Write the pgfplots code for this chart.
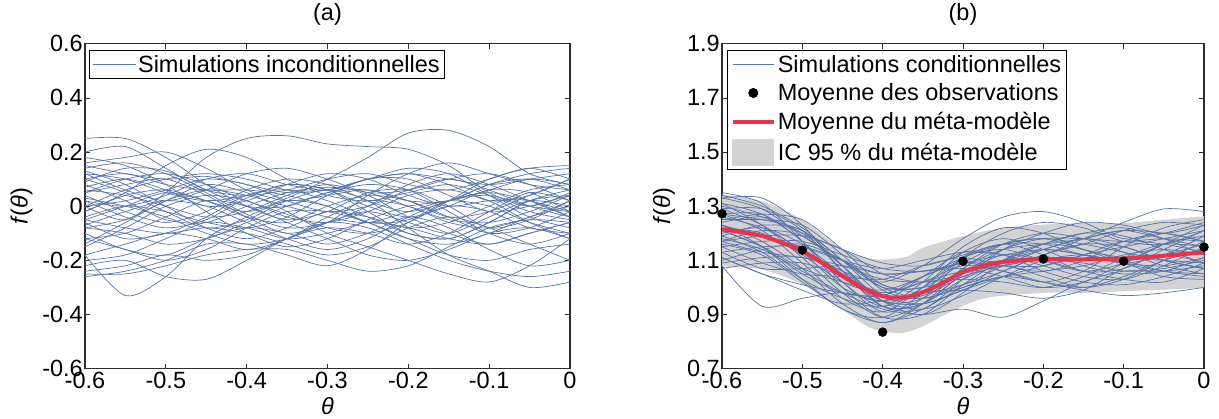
\documentclass[border=0pt]{standalone}
\usepackage{fontspec}
\setmainfont{Liberation Sans}
\usepackage{pgfplots}
\pgfplotsset{compat=1.18}
\usepgfplotslibrary{fillbetween}
\definecolor{simblue}{RGB}{88,116,168}
\definecolor{mred}{RGB}{236,50,75}
\definecolor{bandgray}{RGB}{211,211,211}
\definecolor{axgray}{RGB}{45,45,45}
\newcommand{\bigf}{\fontsize{23.5}{28}\selectfont}
\pgfplotsset{
  myaxis/.style={
    scale only axis, height=325pt, xmin=-0.6, xmax=0,
    xtick={-0.6,-0.5,-0.4,-0.3,-0.2,-0.1,0},
    tick align=inside, major tick length=5pt,
    tick style={axgray, line width=0.7pt},
    axis line style={axgray, line width=1.3pt},
    /pgf/number format/assume math mode=true,
    /pgf/number format/fixed, /pgf/number format/precision=1,
    ticklabel style={font=\bigf},
    yticklabel style={inner xsep=2pt},
    xticklabel style={inner ysep=3pt},
    xlabel={\textit{θ}}, xlabel style={at={(axis description cs:0.5,-0.116)}, anchor=center, font=\bigf},
    ylabel={\textit{f}(\textit{θ})}, ylabel style={anchor=center, font=\bigf},
    title style={at={(axis description cs:0.5,1.071)}, anchor=center, font=\bigf},
    clip mode=individual,
    legend cell align=left,
    legend style={draw=black, line width=1pt, fill=white, font=\bigf,
      inner xsep=3pt, inner ysep=3pt, anchor=north west, row sep=6pt},
  },
  sim/.style={simblue, line width=0.7pt, smooth, no markers, forget plot},
}
\begin{document}
\begin{tikzpicture}
% ---------------- (a) ----------------
\begin{axis}[myaxis, at={(0pt,0pt)}, width=485pt,
  ymin=-0.6, ymax=0.6, ytick={-0.6,-0.4,-0.2,0,0.2,0.4,0.6},
  ylabel style={at={(axis description cs:-0.131,0.5)}},
  title={(a)},
  legend style={at={(axis description cs:0.008,0.9815)}}]
\addlegendimage{legend image code/.code={\draw[simblue, line width=0.7pt] (0pt,0pt)--(43pt,0pt);}}
\addlegendentry{Simulations inconditionnelles}
\addplot[sim] coordinates {(-0.6,-0.05)(-0.55,0.00)(-0.5,0.05)(-0.45,0.02)(-0.4,-0.02)(-0.35,0.03)(-0.3,0.10)(-0.25,0.18)(-0.2,0.27)(-0.15,0.28)(-0.1,0.22)(-0.05,0.12)(0,0.08)};
\addplot[sim] coordinates {(-0.6,0.25)(-0.55,0.25)(-0.5,0.18)(-0.45,0.08)(-0.4,0.00)(-0.35,-0.05)(-0.3,-0.02)(-0.25,0.05)(-0.2,0.06)(-0.15,0.00)(-0.1,-0.08)(-0.05,-0.05)(0,0.02)};
\addplot[sim] coordinates {(-0.6,0.00)(-0.55,-0.05)(-0.5,0.05)(-0.45,0.18)(-0.4,0.25)(-0.35,0.26)(-0.3,0.23)(-0.25,0.22)(-0.2,0.21)(-0.15,0.15)(-0.1,0.05)(-0.05,0.00)(0,0.05)};
\addplot[sim] coordinates {(-0.6,-0.18)(-0.55,-0.33)(-0.5,-0.26)(-0.45,-0.12)(-0.4,-0.04)(-0.35,0.02)(-0.3,0.00)(-0.25,-0.06)(-0.2,-0.05)(-0.15,0.02)(-0.1,0.05)(-0.05,0.02)(0,-0.02)};
\addplot[sim] coordinates {(-0.6,0.10)(-0.55,0.05)(-0.5,-0.02)(-0.45,-0.08)(-0.4,-0.05)(-0.35,0.02)(-0.3,0.06)(-0.25,0.02)(-0.2,-0.08)(-0.15,-0.18)(-0.1,-0.24)(-0.05,-0.30)(0,-0.28)};
\addplot[sim] coordinates {(-0.6,-0.08)(-0.55,-0.05)(-0.5,0.02)(-0.45,0.08)(-0.4,0.05)(-0.35,-0.02)(-0.3,-0.10)(-0.25,-0.15)(-0.2,-0.20)(-0.15,-0.25)(-0.1,-0.28)(-0.05,-0.22)(0,-0.12)};
\addplot[sim] coordinates {(-0.6,0.15)(-0.55,0.12)(-0.5,0.10)(-0.45,0.11)(-0.4,0.08)(-0.35,0.05)(-0.3,0.06)(-0.25,0.10)(-0.2,0.12)(-0.15,0.10)(-0.1,0.08)(-0.05,0.10)(0,0.12)};
\addplot[sim] coordinates {(-0.6,0.18)(-0.55,0.15)(-0.5,0.08)(-0.45,-0.02)(-0.4,-0.10)(-0.35,-0.15)(-0.3,-0.12)(-0.25,-0.05)(-0.2,0.00)(-0.15,0.02)(-0.1,0.06)(-0.05,0.10)(0,0.08)};
\addplot[sim] coordinates {(-0.6,-0.25)(-0.55,-0.25)(-0.5,-0.22)(-0.45,-0.18)(-0.4,-0.16)(-0.35,-0.16)(-0.3,-0.20)(-0.25,-0.24)(-0.2,-0.22)(-0.15,-0.15)(-0.1,-0.08)(-0.05,-0.05)(0,-0.06)};
\addplot[sim] coordinates {(-0.6,-0.22)(-0.55,-0.20)(-0.5,-0.26)(-0.45,-0.27)(-0.4,-0.20)(-0.35,-0.12)(-0.3,-0.08)(-0.25,-0.10)(-0.2,-0.14)(-0.15,-0.10)(-0.1,-0.02)(-0.05,0.05)(0,0.02)};
\addplot[sim] coordinates {(-0.6,0.05)(-0.55,0.10)(-0.5,0.12)(-0.45,0.08)(-0.4,0.02)(-0.35,-0.03)(-0.3,-0.08)(-0.25,-0.10)(-0.2,-0.06)(-0.15,0.02)(-0.1,0.10)(-0.05,0.14)(0,0.15)};
\addplot[sim] coordinates {(-0.6,-0.02)(-0.55,0.05)(-0.5,0.15)(-0.45,0.21)(-0.4,0.18)(-0.35,0.10)(-0.3,0.04)(-0.25,0.02)(-0.2,0.05)(-0.15,0.08)(-0.1,0.04)(-0.05,-0.02)(0,-0.05)};
\addplot[sim] coordinates {(-0.6,0.12)(-0.55,0.10)(-0.5,0.05)(-0.45,0.02)(-0.4,0.04)(-0.35,0.08)(-0.3,0.06)(-0.25,-0.02)(-0.2,-0.10)(-0.15,-0.12)(-0.1,-0.06)(-0.05,0.02)(0,0.06)};
\addplot[sim] coordinates {(-0.6,-0.08)(-0.55,-0.10)(-0.5,-0.14)(-0.45,-0.12)(-0.4,-0.06)(-0.35,0.00)(-0.3,0.05)(-0.25,0.08)(-0.2,0.06)(-0.15,-0.02)(-0.1,-0.10)(-0.05,-0.14)(0,-0.10)};
\addplot[sim] coordinates {(-0.6,0.08)(-0.55,0.02)(-0.5,-0.05)(-0.45,-0.06)(-0.4,0.00)(-0.35,0.05)(-0.3,0.07)(-0.25,0.05)(-0.2,0.00)(-0.15,-0.05)(-0.1,-0.06)(-0.05,-0.02)(0,0.04)};
\addplot[sim] coordinates {(-0.6,-0.12)(-0.55,-0.10)(-0.5,-0.04)(-0.45,0.02)(-0.4,0.00)(-0.35,-0.06)(-0.3,-0.12)(-0.25,-0.18)(-0.2,-0.20)(-0.15,-0.16)(-0.1,-0.10)(-0.05,-0.08)(0,-0.12)};
\addplot[sim] coordinates {(-0.6,0.20)(-0.55,0.22)(-0.5,0.14)(-0.45,0.06)(-0.4,0.04)(-0.35,0.06)(-0.3,0.10)(-0.25,0.12)(-0.2,0.08)(-0.15,0.06)(-0.1,0.10)(-0.05,0.14)(0,0.10)};
\addplot[sim] coordinates {(-0.6,0.02)(-0.55,-0.04)(-0.5,-0.08)(-0.45,-0.05)(-0.4,0.03)(-0.35,0.08)(-0.3,0.06)(-0.25,0.00)(-0.2,-0.04)(-0.15,0.00)(-0.1,0.06)(-0.05,0.05)(0,-0.02)};
\addplot[sim] coordinates {(-0.6,-0.15)(-0.55,-0.08)(-0.5,0.00)(-0.45,0.04)(-0.4,0.02)(-0.35,-0.04)(-0.3,-0.06)(-0.25,-0.02)(-0.2,0.04)(-0.15,0.06)(-0.1,0.02)(-0.05,-0.06)(0,-0.12)};
\addplot[sim] coordinates {(-0.6,0.14)(-0.55,0.16)(-0.5,0.12)(-0.45,0.05)(-0.4,-0.03)(-0.35,-0.08)(-0.3,-0.06)(-0.25,0.00)(-0.2,0.08)(-0.15,0.12)(-0.1,0.08)(-0.05,0.02)(0,-0.04)};
\addplot[sim] coordinates {(-0.6,-0.05)(-0.55,-0.08)(-0.5,-0.10)(-0.45,-0.08)(-0.4,-0.10)(-0.35,-0.14)(-0.3,-0.18)(-0.25,-0.15)(-0.2,-0.08)(-0.15,-0.04)(-0.1,-0.08)(-0.05,-0.14)(0,-0.20)};
\addplot[sim] coordinates {(-0.6,0.05)(-0.55,0.08)(-0.5,0.10)(-0.45,0.04)(-0.4,-0.04)(-0.35,-0.10)(-0.3,-0.06)(-0.25,0.04)(-0.2,0.12)(-0.15,0.16)(-0.1,0.12)(-0.05,0.08)(0,0.06)};
\addplot[sim] coordinates {(-0.6,-0.26)(-0.55,-0.24)(-0.5,-0.20)(-0.45,-0.14)(-0.4,-0.14)(-0.35,-0.18)(-0.3,-0.22)(-0.25,-0.16)(-0.2,-0.06)(-0.15,0.00)(-0.1,-0.02)(-0.05,-0.08)(0,-0.10)};
\addplot[sim] coordinates {(-0.6,0.10)(-0.55,0.12)(-0.5,0.08)(-0.45,0.06)(-0.4,0.06)(-0.35,0.04)(-0.3,0.00)(-0.25,-0.06)(-0.2,-0.12)(-0.15,-0.14)(-0.1,-0.10)(-0.05,-0.04)(0,0.00)};
\addplot[sim] coordinates {(-0.6,0.00)(-0.55,0.02)(-0.5,0.06)(-0.45,0.10)(-0.4,0.08)(-0.35,0.02)(-0.3,-0.02)(-0.25,0.00)(-0.2,0.06)(-0.15,0.10)(-0.1,0.06)(-0.05,0.00)(0,-0.04)};
\addplot[sim] coordinates {(-0.6,-0.10)(-0.55,-0.16)(-0.5,-0.18)(-0.45,-0.12)(-0.4,-0.08)(-0.35,-0.10)(-0.3,-0.14)(-0.25,-0.10)(-0.2,-0.04)(-0.15,-0.08)(-0.1,-0.16)(-0.05,-0.22)(0,-0.20)};
\addplot[sim] coordinates {(-0.6,0.12)(-0.55,0.06)(-0.5,0.02)(-0.45,0.06)(-0.4,0.12)(-0.35,0.14)(-0.3,0.10)(-0.25,0.05)(-0.2,0.06)(-0.15,0.10)(-0.1,0.12)(-0.05,0.08)(0,0.02)};
\addplot[sim] coordinates {(-0.6,-0.04)(-0.55,0.00)(-0.5,-0.02)(-0.45,-0.06)(-0.4,-0.08)(-0.35,-0.04)(-0.3,0.04)(-0.25,0.10)(-0.2,0.10)(-0.15,0.04)(-0.1,-0.02)(-0.05,0.00)(0,0.04)};
\addplot[sim] coordinates {(-0.6,0.06)(-0.55,0.04)(-0.5,0.00)(-0.45,-0.04)(-0.4,-0.02)(-0.35,0.04)(-0.3,0.08)(-0.25,0.04)(-0.2,-0.04)(-0.15,-0.10)(-0.1,-0.14)(-0.05,-0.10)(0,-0.06)};
\addplot[sim] coordinates {(-0.6,-0.18)(-0.55,-0.14)(-0.5,-0.10)(-0.45,-0.12)(-0.4,-0.16)(-0.35,-0.12)(-0.3,-0.04)(-0.25,0.02)(-0.2,0.00)(-0.15,-0.06)(-0.1,-0.08)(-0.05,-0.04)(0,0.02)};
\addplot[sim] coordinates {(-0.6,0.16)(-0.55,0.18)(-0.5,0.20)(-0.45,0.14)(-0.4,0.06)(-0.35,0.02)(-0.3,0.04)(-0.25,0.06)(-0.2,0.02)(-0.15,-0.04)(-0.1,-0.02)(-0.05,0.04)(0,0.10)};
\addplot[sim] coordinates {(-0.6,0.02)(-0.55,0.00)(-0.5,0.04)(-0.45,0.10)(-0.4,0.12)(-0.35,0.08)(-0.3,0.06)(-0.25,0.10)(-0.2,0.14)(-0.15,0.12)(-0.1,0.04)(-0.05,-0.04)(0,-0.08)};
\addplot[sim] coordinates {(-0.6,-0.07)(-0.55,-0.02)(-0.5,0.02)(-0.45,0.00)(-0.4,-0.06)(-0.35,-0.12)(-0.3,-0.16)(-0.25,-0.12)(-0.2,-0.04)(-0.15,0.02)(-0.1,0.04)(-0.05,0.00)(0,-0.02)};
\addplot[sim] coordinates {(-0.6,0.09)(-0.55,0.14)(-0.5,0.13)(-0.45,0.06)(-0.4,0.00)(-0.35,0.00)(-0.3,0.05)(-0.25,0.06)(-0.2,0.02)(-0.15,0.02)(-0.1,0.08)(-0.05,0.10)(0,0.06)};
\addplot[sim] coordinates {(-0.6,-0.20)(-0.55,-0.18)(-0.5,-0.12)(-0.45,-0.06)(-0.4,-0.08)(-0.35,-0.12)(-0.3,-0.10)(-0.25,-0.06)(-0.2,-0.08)(-0.15,-0.12)(-0.1,-0.14)(-0.05,-0.10)(0,-0.06)};
\addplot[sim] coordinates {(-0.6,0.04)(-0.55,-0.02)(-0.5,-0.06)(-0.45,-0.02)(-0.4,0.06)(-0.35,0.10)(-0.3,0.08)(-0.25,0.02)(-0.2,-0.02)(-0.15,0.02)(-0.1,0.08)(-0.05,0.12)(0,0.14)};
\addplot[sim] coordinates {(-0.6,-0.02)(-0.55,0.04)(-0.5,0.06)(-0.45,0.02)(-0.4,-0.04)(-0.35,-0.06)(-0.3,0.00)(-0.25,0.04)(-0.2,0.02)(-0.15,-0.04)(-0.1,-0.10)(-0.05,-0.08)(0,-0.02)};
\addplot[sim] coordinates {(-0.6,0.13)(-0.55,0.08)(-0.5,0.00)(-0.45,-0.08)(-0.4,-0.12)(-0.35,-0.08)(-0.3,-0.02)(-0.25,-0.04)(-0.2,-0.08)(-0.15,-0.06)(-0.1,0.00)(-0.05,0.06)(0,0.08)};
\addplot[sim] coordinates {(-0.6,-0.12)(-0.55,-0.16)(-0.5,-0.20)(-0.45,-0.16)(-0.4,-0.08)(-0.35,-0.02)(-0.3,-0.02)(-0.25,-0.06)(-0.2,-0.12)(-0.15,-0.18)(-0.1,-0.20)(-0.05,-0.16)(0,-0.14)};
\addplot[sim] coordinates {(-0.6,0.07)(-0.55,0.10)(-0.5,0.06)(-0.45,0.00)(-0.4,0.02)(-0.35,0.08)(-0.3,0.12)(-0.25,0.10)(-0.2,0.04)(-0.15,0.00)(-0.1,0.02)(-0.05,0.02)(0,-0.04)};
\addplot[sim] coordinates {(-0.6,-0.06)(-0.55,-0.12)(-0.5,-0.10)(-0.45,-0.04)(-0.4,0.04)(-0.35,0.06)(-0.3,0.02)(-0.25,-0.04)(-0.2,-0.10)(-0.15,-0.12)(-0.1,-0.06)(-0.05,0.02)(0,0.04)};
\addplot[sim] coordinates {(-0.6,0.00)(-0.55,0.06)(-0.5,0.10)(-0.45,0.12)(-0.4,0.10)(-0.35,0.06)(-0.3,0.06)(-0.25,0.10)(-0.2,0.12)(-0.15,0.08)(-0.1,0.02)(-0.05,0.04)(0,0.10)};
\addplot[sim] coordinates {(-0.6,-0.14)(-0.55,-0.06)(-0.5,0.02)(-0.45,0.06)(-0.4,0.04)(-0.35,0.00)(-0.3,-0.04)(-0.25,-0.06)(-0.2,-0.02)(-0.15,0.02)(-0.1,0.00)(-0.05,-0.06)(0,-0.10)};
\addplot[sim] coordinates {(-0.6,0.03)(-0.55,0.00)(-0.5,-0.04)(-0.45,-0.10)(-0.4,-0.14)(-0.35,-0.12)(-0.3,-0.06)(-0.25,-0.02)(-0.2,-0.06)(-0.15,-0.10)(-0.1,-0.04)(-0.05,0.02)(0,0.00)};
\addplot[sim] coordinates {(-0.6,-0.24)(-0.55,-0.22)(-0.5,-0.18)(-0.45,-0.20)(-0.4,-0.18)(-0.35,-0.12)(-0.3,-0.06)(-0.25,-0.08)(-0.2,-0.14)(-0.15,-0.20)(-0.1,-0.24)(-0.05,-0.26)(0,-0.24)};
\end{axis}
% ---------------- (b) ----------------
\begin{axis}[myaxis, at={(637pt,0pt)}, width=482pt,
  ymin=0.7, ymax=1.9, ytick={0.7,0.9,1.1,1.3,1.5,1.7,1.9},
  ylabel style={at={(axis description cs:-0.12,0.5)}},
  title={(b)},
  legend style={at={(axis description cs:0.011,0.9815)}}]
\addlegendimage{legend image code/.code={\draw[simblue, line width=0.7pt] (0pt,0pt)--(41pt,0pt);}}
\addlegendentry{Simulations conditionnelles}
\addlegendimage{legend image code/.code={\fill[black] (20.5pt,0pt) circle (4.5pt);}}
\addlegendentry{Moyenne des observations}
\addlegendimage{legend image code/.code={\draw[mred, line width=4pt] (0pt,0pt)--(41pt,0pt);}}
\addlegendentry{Moyenne du méta-modèle}
\addlegendimage{legend image code/.code={\fill[bandgray] (0pt,-13pt) rectangle (41pt,13pt);}}
\addlegendentry{IC 95 \% du méta-modèle}
% confidence band
\addplot[name path=up, draw=none, smooth, forget plot] coordinates {(-0.6,1.343)(-0.55,1.318)(-0.5,1.25)(-0.45,1.14)(-0.42,1.11)(-0.4,1.103)(-0.37,1.113)(-0.35,1.146)(-0.3,1.19)(-0.25,1.22)(-0.2,1.232)(-0.15,1.238)(-0.1,1.238)(-0.05,1.25)(0,1.263)};
\addplot[name path=lo, draw=none, smooth, forget plot] coordinates {(-0.6,1.078)(-0.55,1.066)(-0.5,1.011)(-0.45,0.918)(-0.42,0.857)(-0.4,0.838)(-0.375,0.832)(-0.35,0.857)(-0.31,0.918)(-0.27,0.962)(-0.2,0.98)(-0.15,0.98)(-0.1,0.986)(-0.05,0.992)(0,0.998)};
\addplot[bandgray, forget plot] fill between[of=up and lo];
% conditional simulations
\addplot[sim] coordinates {(-0.6,1.31)(-0.55,1.27)(-0.5,1.17)(-0.45,1.02)(-0.4,0.91)(-0.35,0.96)(-0.3,1.11)(-0.25,1.20)(-0.2,1.24)(-0.15,1.22)(-0.1,1.17)(-0.05,1.16)(0,1.21)};
\addplot[sim] coordinates {(-0.6,1.13)(-0.55,1.07)(-0.5,1.07)(-0.45,1.08)(-0.4,1.05)(-0.35,1.06)(-0.3,1.07)(-0.25,1.04)(-0.2,1.00)(-0.15,1.02)(-0.1,1.09)(-0.05,1.16)(0,1.19)};
\addplot[sim] coordinates {(-0.6,1.25)(-0.55,1.25)(-0.5,1.23)(-0.45,1.12)(-0.4,0.99)(-0.35,0.96)(-0.3,1.01)(-0.25,1.08)(-0.2,1.14)(-0.15,1.18)(-0.1,1.21)(-0.05,1.18)(0,1.15)};
\addplot[sim] coordinates {(-0.6,1.11)(-0.55,1.05)(-0.5,0.99)(-0.45,0.94)(-0.4,0.95)(-0.35,0.98)(-0.3,0.99)(-0.25,0.98)(-0.2,0.96)(-0.15,0.99)(-0.1,1.07)(-0.05,1.12)(0,1.09)};
\addplot[sim] coordinates {(-0.6,1.33)(-0.55,1.29)(-0.5,1.19)(-0.45,1.10)(-0.4,1.05)(-0.35,1.06)(-0.3,1.09)(-0.25,1.10)(-0.2,1.14)(-0.15,1.18)(-0.1,1.15)(-0.05,1.10)(0,1.07)};
\addplot[sim] coordinates {(-0.6,1.21)(-0.55,1.15)(-0.5,1.05)(-0.45,0.98)(-0.4,0.97)(-0.35,1.04)(-0.3,1.09)(-0.25,1.06)(-0.2,1.02)(-0.15,1.06)(-0.1,1.15)(-0.05,1.22)(0,1.25)};
\addplot[sim] coordinates {(-0.6,1.17)(-0.55,1.19)(-0.5,1.19)(-0.45,1.14)(-0.4,1.05)(-0.35,1.02)(-0.3,1.05)(-0.25,1.10)(-0.2,1.16)(-0.15,1.20)(-0.1,1.19)(-0.05,1.14)(0,1.09)};
\addplot[sim] coordinates {(-0.6,1.27)(-0.55,1.21)(-0.5,1.09)(-0.45,0.96)(-0.4,0.91)(-0.35,1.00)(-0.3,1.13)(-0.25,1.18)(-0.2,1.14)(-0.15,1.08)(-0.1,1.05)(-0.05,1.06)(0,1.11)};
\addplot[sim] coordinates {(-0.6,1.09)(-0.55,1.11)(-0.5,1.11)(-0.45,1.06)(-0.4,0.95)(-0.35,0.92)(-0.3,0.97)(-0.25,1.04)(-0.2,1.10)(-0.15,1.12)(-0.1,1.09)(-0.05,1.04)(0,1.03)};
\addplot[sim] coordinates {(-0.6,1.29)(-0.55,1.29)(-0.5,1.21)(-0.45,1.06)(-0.4,0.93)(-0.35,0.92)(-0.3,1.03)(-0.25,1.14)(-0.2,1.20)(-0.15,1.24)(-0.1,1.23)(-0.05,1.20)(0,1.23)};
\addplot[sim] coordinates {(-0.6,1.19)(-0.55,1.23)(-0.5,1.21)(-0.45,1.08)(-0.4,0.93)(-0.35,0.94)(-0.3,1.05)(-0.25,1.12)(-0.2,1.10)(-0.15,1.06)(-0.1,1.03)(-0.05,1.02)(0,1.07)};
\addplot[sim] coordinates {(-0.6,1.23)(-0.55,1.15)(-0.5,1.03)(-0.45,0.92)(-0.4,0.89)(-0.35,0.98)(-0.3,1.11)(-0.25,1.16)(-0.2,1.12)(-0.15,1.06)(-0.1,1.07)(-0.05,1.14)(0,1.21)};
\addplot[sim] coordinates {(-0.6,1.15)(-0.55,1.09)(-0.5,1.05)(-0.45,1.04)(-0.4,1.03)(-0.35,1.08)(-0.3,1.11)(-0.25,1.08)(-0.2,1.06)(-0.15,1.10)(-0.1,1.17)(-0.05,1.20)(0,1.17)};
\addplot[sim] coordinates {(-0.6,1.35)(-0.55,1.31)(-0.5,1.17)(-0.45,1.00)(-0.4,0.89)(-0.35,0.90)(-0.3,1.01)(-0.25,1.10)(-0.2,1.14)(-0.15,1.12)(-0.1,1.09)(-0.05,1.12)(0,1.19)};
\addplot[sim] coordinates {(-0.6,1.23)(-0.55,1.19)(-0.5,1.15)(-0.45,1.10)(-0.4,1.07)(-0.35,1.10)(-0.3,1.13)(-0.25,1.12)(-0.2,1.08)(-0.15,1.04)(-0.1,1.03)(-0.05,1.08)(0,1.15)};
\addplot[sim] coordinates {(-0.6,1.07)(-0.55,1.09)(-0.5,1.09)(-0.45,1.04)(-0.4,0.95)(-0.35,0.94)(-0.3,0.99)(-0.25,1.06)(-0.2,1.12)(-0.15,1.16)(-0.1,1.15)(-0.05,1.10)(0,1.07)};
\addplot[sim] coordinates {(-0.6,1.27)(-0.55,1.27)(-0.5,1.17)(-0.45,1.02)(-0.4,0.93)(-0.35,1.00)(-0.3,1.11)(-0.25,1.14)(-0.2,1.10)(-0.15,1.06)(-0.1,1.09)(-0.05,1.16)(0,1.23)};
\addplot[sim] coordinates {(-0.6,1.17)(-0.55,1.13)(-0.5,1.11)(-0.45,1.08)(-0.4,1.03)(-0.35,1.02)(-0.3,1.03)(-0.25,1.02)(-0.2,1.00)(-0.15,1.04)(-0.1,1.11)(-0.05,1.16)(0,1.15)};
\addplot[sim] coordinates {(-0.6,1.31)(-0.55,1.23)(-0.5,1.11)(-0.45,0.98)(-0.4,0.89)(-0.35,0.94)(-0.3,1.05)(-0.25,1.14)(-0.2,1.18)(-0.15,1.18)(-0.1,1.17)(-0.05,1.18)(0,1.17)};
\addplot[sim] coordinates {(-0.6,1.13)(-0.55,1.15)(-0.5,1.15)(-0.45,1.10)(-0.4,1.01)(-0.35,0.98)(-0.3,1.01)(-0.25,1.06)(-0.2,1.12)(-0.15,1.16)(-0.1,1.21)(-0.05,1.24)(0,1.23)};
\addplot[sim] coordinates {(-0.6,1.25)(-0.55,1.27)(-0.5,1.25)(-0.45,1.14)(-0.4,1.01)(-0.35,1.00)(-0.3,1.09)(-0.25,1.16)(-0.2,1.18)(-0.15,1.14)(-0.1,1.09)(-0.05,1.06)(0,1.05)};
\addplot[sim] coordinates {(-0.6,1.19)(-0.55,1.13)(-0.5,1.03)(-0.45,0.96)(-0.4,0.93)(-0.35,1.02)(-0.3,1.15)(-0.25,1.22)(-0.2,1.20)(-0.15,1.14)(-0.1,1.11)(-0.05,1.10)(0,1.09)};
\addplot[sim] coordinates {(-0.6,1.29)(-0.55,1.23)(-0.5,1.13)(-0.45,1.00)(-0.4,0.95)(-0.35,1.04)(-0.3,1.13)(-0.25,1.12)(-0.2,1.06)(-0.15,1.02)(-0.1,1.01)(-0.05,1.04)(0,1.09)};
\addplot[sim] coordinates {(-0.6,1.15)(-0.55,1.17)(-0.5,1.17)(-0.45,1.12)(-0.4,1.07)(-0.35,1.06)(-0.3,1.09)(-0.25,1.12)(-0.2,1.14)(-0.15,1.12)(-0.1,1.09)(-0.05,1.08)(0,1.11)};
\addplot[sim] coordinates {(-0.6,1.21)(-0.55,1.15)(-0.5,1.07)(-0.45,1.02)(-0.4,0.99)(-0.35,1.04)(-0.3,1.11)(-0.25,1.16)(-0.2,1.18)(-0.15,1.16)(-0.1,1.13)(-0.05,1.10)(0,1.07)};
\addplot[sim] coordinates {(-0.6,1.33)(-0.55,1.33)(-0.5,1.23)(-0.45,1.06)(-0.4,0.93)(-0.35,0.94)(-0.3,1.03)(-0.25,1.08)(-0.2,1.04)(-0.15,1.00)(-0.1,1.03)(-0.05,1.10)(0,1.17)};
\addplot[sim] coordinates {(-0.6,1.11)(-0.55,1.05)(-0.5,1.01)(-0.45,0.98)(-0.4,0.97)(-0.35,1.04)(-0.3,1.09)(-0.25,1.08)(-0.2,1.08)(-0.15,1.12)(-0.1,1.17)(-0.05,1.16)(0,1.13)};
\addplot[sim] coordinates {(-0.6,1.27)(-0.55,1.25)(-0.5,1.21)(-0.45,1.10)(-0.4,0.97)(-0.35,0.94)(-0.3,0.99)(-0.25,1.04)(-0.2,1.08)(-0.15,1.12)(-0.1,1.15)(-0.05,1.18)(0,1.21)};
\addplot[sim] coordinates {(-0.6,1.17)(-0.55,1.21)(-0.5,1.19)(-0.45,1.08)(-0.4,0.95)(-0.35,0.96)(-0.3,1.07)(-0.25,1.16)(-0.2,1.20)(-0.15,1.18)(-0.1,1.13)(-0.05,1.08)(0,1.05)};
\addplot[sim] coordinates {(-0.6,1.23)(-0.55,1.17)(-0.5,1.07)(-0.45,0.94)(-0.4,0.87)(-0.35,0.94)(-0.3,1.07)(-0.25,1.14)(-0.2,1.16)(-0.15,1.18)(-0.1,1.21)(-0.05,1.20)(0,1.17)};
\addplot[sim] coordinates {(-0.6,1.08)(-0.55,0.93)(-0.5,0.96)(-0.45,0.98)(-0.4,0.95)(-0.35,0.97)(-0.3,1.04)(-0.25,1.08)(-0.2,1.10)(-0.15,1.09)(-0.1,1.06)(-0.05,1.07)(0,1.10)};
\addplot[sim] coordinates {(-0.6,1.18)(-0.55,1.14)(-0.5,1.06)(-0.45,0.98)(-0.4,0.92)(-0.35,0.90)(-0.3,0.92)(-0.25,0.89)(-0.2,0.95)(-0.15,1.02)(-0.1,1.06)(-0.05,1.06)(0,1.08)};
\addplot[sim] coordinates {(-0.6,1.20)(-0.55,1.22)(-0.5,1.16)(-0.45,1.05)(-0.4,0.98)(-0.35,1.02)(-0.3,1.08)(-0.25,1.06)(-0.2,1.02)(-0.15,0.99)(-0.1,0.97)(-0.05,0.98)(0,1.00)};
\addplot[sim] coordinates {(-0.6,1.26)(-0.55,1.22)(-0.5,1.14)(-0.45,1.06)(-0.4,1.02)(-0.35,1.08)(-0.3,1.18)(-0.25,1.26)(-0.2,1.28)(-0.15,1.24)(-0.1,1.18)(-0.05,1.20)(0,1.24)};
\addplot[sim] coordinates {(-0.6,1.22)(-0.55,1.20)(-0.5,1.12)(-0.45,1.02)(-0.4,0.98)(-0.35,1.02)(-0.3,1.06)(-0.25,1.08)(-0.2,1.12)(-0.15,1.18)(-0.1,1.24)(-0.05,1.29)(0,1.28)};
\addplot[sim] coordinates {(-0.6,1.30)(-0.55,1.26)(-0.5,1.20)(-0.45,1.14)(-0.4,1.09)(-0.35,1.08)(-0.3,1.12)(-0.25,1.16)(-0.2,1.16)(-0.15,1.12)(-0.1,1.10)(-0.05,1.12)(0,1.16)};
\addplot[sim] coordinates {(-0.6,1.34)(-0.55,1.30)(-0.5,1.22)(-0.45,1.10)(-0.4,1.00)(-0.35,1.00)(-0.3,1.04)(-0.25,1.10)(-0.2,1.16)(-0.15,1.20)(-0.1,1.22)(-0.05,1.18)(0,1.12)};
\addplot[sim] coordinates {(-0.6,1.16)(-0.55,1.12)(-0.5,1.02)(-0.45,0.92)(-0.4,0.87)(-0.35,0.92)(-0.3,1.00)(-0.25,1.04)(-0.2,1.06)(-0.15,1.08)(-0.1,1.12)(-0.05,1.14)(0,1.12)};
\addplot[sim] coordinates {(-0.6,1.24)(-0.55,1.26)(-0.5,1.20)(-0.45,1.08)(-0.4,0.95)(-0.35,0.90)(-0.3,0.98)(-0.25,1.10)(-0.2,1.16)(-0.15,1.14)(-0.1,1.10)(-0.05,1.06)(0,1.04)};
\addplot[sim] coordinates {(-0.6,1.10)(-0.55,1.14)(-0.5,1.16)(-0.45,1.10)(-0.4,1.00)(-0.35,0.96)(-0.3,1.00)(-0.25,1.04)(-0.2,1.02)(-0.15,1.00)(-0.1,1.04)(-0.05,1.10)(0,1.14)};
% meta-model mean
\addplot[mred, line width=4pt, smooth, no markers, forget plot] coordinates {(-0.6,1.214)(-0.575,1.205)(-0.55,1.19)(-0.525,1.165)(-0.5,1.134)(-0.475,1.09)(-0.45,1.042)(-0.425,0.998)(-0.4,0.968)(-0.38,0.962)(-0.36,0.972)(-0.34,0.995)(-0.32,1.025)(-0.3,1.058)(-0.275,1.08)(-0.25,1.094)(-0.225,1.101)(-0.2,1.105)(-0.15,1.104)(-0.1,1.107)(-0.05,1.117)(0,1.13)};
% observations
\addplot[only marks, mark=*, mark size=4.5pt, black, forget plot] coordinates {(-0.6,1.272)(-0.5,1.138)(-0.4,0.835)(-0.3,1.097)(-0.2,1.105)(-0.1,1.097)(0,1.149)};
\end{axis}
\pgfresetboundingbox
\path (-85pt,-50.3pt) rectangle (1134pt,368.7pt);
\end{tikzpicture}
\end{document}
